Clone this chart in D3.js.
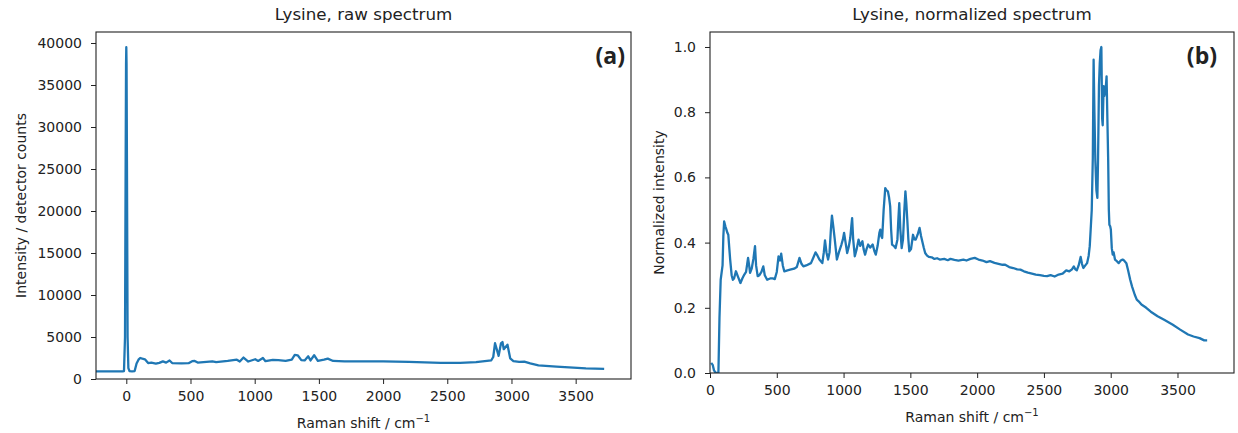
<!DOCTYPE html>
<html>
<head>
<meta charset="utf-8">
<script src="https://cdn.jsdelivr.net/npm/d3@7"></script>
<style>
  body { margin: 0; background: #fff; }
  svg text { font-family: "DejaVu Sans", sans-serif; fill: #222; }
  .tick line { stroke: #222; }
  .tick text { font-size: 14px; }
</style>
</head>
<body>
<svg id="fig" width="1238" height="433"></svg>
<script>
// raw spectrum (detector counts)
var rawShift = [-236, -30, -18, -10, -5, -2, 0, 2, 5, 10, 16, 25, 45, 65, 80, 95, 108, 125, 145, 170, 195, 230, 257,
  285, 310, 337, 357, 430, 485, 513, 533, 556, 670, 700, 790, 861, 884, 913, 950, 1004, 1027, 1064, 1084, 1141,
  1184, 1241, 1289, 1312, 1335, 1363, 1389, 1417, 1435, 1463, 1492, 1540, 1569, 1611, 1700, 2000, 2200, 2450, 2600,
  2724, 2775, 2843, 2858, 2872, 2900, 2918, 2930, 2940, 2969, 2990, 3015, 3060, 3100, 3146, 3210, 3350, 3580, 3722];
var rawCounts = [900, 900, 950, 5000, 26000, 37500, 39500, 37500, 26000, 5000, 1300, 950, 900, 950, 1850, 2300, 2500,
  2420, 2350, 1900, 1950, 1830, 1920, 2100, 1950, 2200, 1900, 1870, 1880, 2120, 2150, 1960, 2100, 2000, 2150, 2300,
  2080, 2550, 2080, 2350, 2150, 2500, 2120, 2280, 2250, 2150, 2320, 2860, 2820, 2250, 2210, 2700, 2210, 2830, 2170,
  2300, 2430, 2150, 2100, 2100, 2030, 1920, 1930, 2010, 2110, 2230, 2620, 4260, 2750, 4230, 4400, 3550, 4080, 2460,
  2140, 2050, 2080, 1870, 1630, 1470, 1270, 1200];

// normalized spectrum
var normShift = [9, 20, 30, 43, 63, 71, 80, 94, 100, 106, 115, 123, 130, 137, 145, 151, 162, 171, 180, 194, 210, 228,
  242, 257, 270, 285, 293, 300, 312, 325, 337, 345, 357, 370, 385, 399, 410, 428, 450, 470, 485, 500, 513, 525, 533,
  545, 556, 580, 600, 630, 650, 670, 685, 699, 720, 756, 775, 790, 805, 819, 841, 852, 861, 872, 884, 895, 905, 913,
  923, 933, 950, 965, 984, 995, 1004, 1015, 1027, 1040, 1050, 1058, 1064, 1072, 1084, 1098, 1112, 1125, 1141, 1150,
  1161, 1172, 1184, 1200, 1218, 1230, 1241, 1255, 1268, 1275, 1282, 1289, 1300, 1312, 1322, 1332, 1340, 1349, 1356,
  1363, 1376, 1389, 1403, 1410, 1417, 1425, 1435, 1445, 1455, 1463, 1470, 1477, 1485, 1492, 1505, 1520, 1530, 1540,
  1555, 1569, 1580, 1589, 1600, 1611, 1625, 1640, 1660, 1680, 1700, 1720, 1754, 1780, 1800, 1830, 1860, 1897, 1920,
  1950, 1982, 2010, 2040, 2070, 2096, 2130, 2160, 2190, 2210, 2240, 2270, 2300, 2324, 2350, 2380, 2410, 2439, 2470,
  2500, 2524, 2550, 2580, 2610, 2640, 2667, 2690, 2710, 2724, 2735, 2746, 2760, 2775, 2785, 2795, 2810, 2823, 2835,
  2843, 2850, 2858, 2866, 2872, 2878, 2885, 2893, 2900, 2905, 2912, 2918, 2924, 2930, 2936, 2940, 2947, 2952, 2958,
  2964, 2969, 2975, 2981, 2986, 2990, 2996, 3001, 3008, 3015, 3022, 3032, 3046, 3060, 3075, 3089, 3100, 3117, 3130,
  3146, 3160, 3180, 3195, 3209, 3230, 3266, 3300, 3351, 3400, 3465, 3520, 3579, 3620, 3665, 3700, 3722];
var normValues = [0.031, 0.025, 0.008, 0.0, 0.0, 0.17, 0.286, 0.33, 0.42, 0.465, 0.45, 0.44, 0.43, 0.424, 0.38, 0.348,
  0.3, 0.286, 0.29, 0.312, 0.295, 0.276, 0.29, 0.302, 0.31, 0.353, 0.33, 0.307, 0.32, 0.35, 0.389, 0.33, 0.297, 0.3,
  0.31, 0.327, 0.3, 0.286, 0.29, 0.29, 0.288, 0.31, 0.358, 0.345, 0.366, 0.33, 0.312, 0.315, 0.317, 0.32, 0.325,
  0.353, 0.335, 0.327, 0.33, 0.337, 0.355, 0.37, 0.36, 0.348, 0.337, 0.37, 0.407, 0.37, 0.348, 0.37, 0.44, 0.483,
  0.45, 0.414, 0.348, 0.37, 0.394, 0.41, 0.43, 0.4, 0.368, 0.39, 0.414, 0.45, 0.475, 0.41, 0.358, 0.38, 0.409, 0.39,
  0.404, 0.38, 0.363, 0.38, 0.394, 0.385, 0.394, 0.375, 0.363, 0.39, 0.43, 0.44, 0.42, 0.414, 0.5, 0.567, 0.56,
  0.557, 0.54, 0.511, 0.44, 0.394, 0.39, 0.383, 0.409, 0.47, 0.521, 0.44, 0.383, 0.41, 0.5, 0.557, 0.52, 0.47, 0.41,
  0.373, 0.38, 0.424, 0.41, 0.409, 0.425, 0.445, 0.42, 0.404, 0.385, 0.368, 0.36, 0.356, 0.355, 0.35, 0.352, 0.348,
  0.35, 0.346, 0.35, 0.347, 0.345, 0.348, 0.345, 0.35, 0.353, 0.348, 0.345, 0.34, 0.343, 0.338, 0.335, 0.332, 0.332,
  0.325, 0.322, 0.318, 0.317, 0.312, 0.308, 0.305, 0.302, 0.3, 0.298, 0.297, 0.3, 0.296, 0.302, 0.305, 0.315, 0.312,
  0.318, 0.327, 0.318, 0.315, 0.33, 0.356, 0.335, 0.322, 0.33, 0.337, 0.36, 0.389, 0.44, 0.5, 0.66, 0.961, 0.8, 0.65,
  0.56, 0.537, 0.65, 0.88, 0.95, 0.99, 1.0, 0.78, 0.76, 0.88, 0.85, 0.86, 0.88, 0.91, 0.78, 0.654, 0.5, 0.455, 0.45,
  0.44, 0.383, 0.363, 0.37, 0.348, 0.343, 0.337, 0.345, 0.348, 0.345, 0.337, 0.315, 0.286, 0.265, 0.24, 0.225, 0.22,
  0.21, 0.2, 0.188, 0.174, 0.163, 0.148, 0.133, 0.118, 0.112, 0.107, 0.1, 0.1];

var shiftTicks = [0, 500, 1000, 1500, 2000, 2500, 3000, 3500];
var rawTicks = [0, 5000, 10000, 15000, 20000, 25000, 30000, 35000, 40000];
var normTicks = [0, 0.2, 0.4, 0.6, 0.8, 1.0];

var svg = d3.select("#fig");
svg.append("rect").attr("width", 1238).attr("height", 433).attr("fill", "#fff");

function drawPanel(p) {
  var x = d3.scaleLinear().domain(p.xDomain).range([p.left, p.right]);
  var y = d3.scaleLinear().domain(p.yDomain).range([p.bottom, p.top]);
  var g = svg.append("g");

  // clip so the line stays inside the frame
  var clipId = "clip-" + p.tag.replace(/\W/g, "");
  g.append("clipPath").attr("id", clipId).append("rect")
    .attr("x", p.left).attr("y", p.top)
    .attr("width", p.right - p.left).attr("height", p.bottom - p.top);

  var pts = p.xs.map(function(d, i) { return [d, p.ys[i]]; });
  g.append("path")
    .datum(pts)
    .attr("clip-path", "url(#" + clipId + ")")
    .attr("fill", "none")
    .attr("stroke", "#1f77b4")
    .attr("stroke-width", 2.3)
    .attr("stroke-linejoin", "round")
    .attr("d", d3.line().x(function(d) { return x(d[0]); }).y(function(d) { return y(d[1]); }));

  var xa = g.append("g").attr("transform", "translate(0," + p.bottom + ")")
    .call(d3.axisBottom(x).tickValues(shiftTicks).tickSize(5).tickPadding(7).tickFormat(d3.format("d")));
  xa.select(".domain").remove();

  var ya = g.append("g").attr("transform", "translate(" + p.left + ",0)")
    .call(d3.axisLeft(y).tickValues(p.yTicks).tickSize(5).tickPadding(9).tickFormat(p.yFormat));
  ya.select(".domain").remove();
  g.selectAll(".tick text").attr("fill", "#222").style("font-family", "DejaVu Sans");

  g.append("rect")
    .attr("x", p.left).attr("y", p.top)
    .attr("width", p.right - p.left).attr("height", p.bottom - p.top)
    .attr("fill", "none").attr("stroke", "#222").attr("stroke-width", 1.1);

  var cx = (p.left + p.right) / 2;
  g.append("text").attr("x", cx).attr("y", 20).attr("text-anchor", "middle")
    .style("font-size", "16.7px").text(p.title);

  var xl = g.append("text").attr("x", cx).attr("y", p.xLabelY).attr("text-anchor", "middle")
    .style("font-size", "14px");
  xl.append("tspan").text("Raman shift / cm");
  xl.append("tspan").attr("dy", -6).style("font-size", "10px").text("\u22121");

  g.append("text")
    .attr("transform", "translate(" + p.yLabelX + "," + (p.top + p.bottom) / 2 + ") rotate(-90)")
    .attr("text-anchor", "middle").style("font-size", "14px").text(p.yLabel);

  g.append("text").attr("x", p.tagX).attr("y", 64).attr("text-anchor", "end")
    .style("font-family", "'Open Sans', sans-serif").style("font-weight", "bold")
    .style("font-size", "23px").attr("fill", "#000").text(p.tag);
}

drawPanel({
  tag: "(a)", tagX: 625,
  left: 96, right: 631, top: 32, bottom: 379,
  xDomain: [-236, 3931], yDomain: [0, 41310],
  xs: rawShift, ys: rawCounts, yTicks: rawTicks, yFormat: d3.format("d"),
  title: "Lysine, raw spectrum", yLabel: "Intensity / detector counts",
  xLabelY: 428, yLabelX: 26
});

drawPanel({
  tag: "(b)", tagX: 1217,
  left: 710, right: 1234, top: 32, bottom: 373,
  xDomain: [0, 3923], yDomain: [0, 1.046],
  xs: normShift, ys: normValues, yTicks: normTicks, yFormat: d3.format(".1f"),
  title: "Lysine, normalized spectrum", yLabel: "Normalized intensity",
  xLabelY: 422, yLabelX: 664
});
</script>
</body>
</html>
